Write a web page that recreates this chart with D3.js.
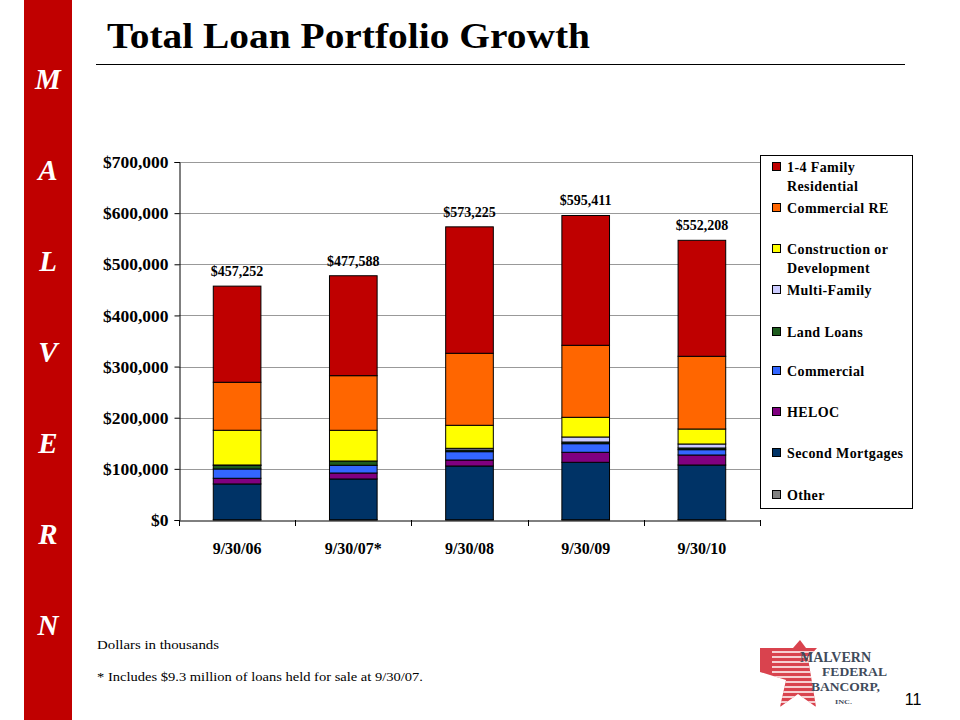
<!DOCTYPE html>
<html><head><meta charset="utf-8">
<script src="https://cdn.jsdelivr.net/npm/d3@7"></script>
<style>body{margin:0;background:#fff}svg{display:block}</style>
</head><body>
<svg id="c" width="960" height="720"></svg>
<script>
const categories = ["9/30/06", "9/30/07*", "9/30/08", "9/30/09", "9/30/10"];
const seriesNames = ["Other", "Second Mortgages", "HELOC", "Commercial", "Land Loans", "Multi-Family", "Construction or Development", "Commercial RE", "1-4 Family Residential"];
const other        = [0.5, 0.5, 0.5, 0.5, 0.5];
const secondMort   = [70.0, 79.7, 105.1, 112.3, 107.0];
const heloc        = [11.1, 11.7, 11.7, 19.6, 19.6];
const commercial   = [18.2, 15.1, 16.3, 16.8, 10.4];
const landLoans    = [7.0, 8.4, 3.3, 3.3, 3.3];
const multiFamily  = [0.8, 0.0, 3.3, 9.8, 7.8];
const construction = [67.9, 60.0, 45.0, 38.5, 29.3];
const commercialRE = [93.8, 106.8, 140.8, 140.8, 142.2];
const family14     = [188.0, 195.4, 247.2, 253.8, 226.8];
const totalLabels  = ["$457,252", "$477,588", "$573,225", "$595,411", "$552,208"];
const yTicks = [0, 100000, 200000, 300000, 400000, 500000, 600000, 700000];
const legendItems = [["1-4 Family", "Residential"], ["Commercial RE"], ["Construction or", "Development"], ["Multi-Family"], ["Land Loans"], ["Commercial"], ["HELOC"], ["Second Mortgages"], ["Other"]];
const sideLetters = ["M", "A", "L", "V", "E", "R", "N"];

const colors = {
  "Other": "#808080", "Second Mortgages": "#003366", "HELOC": "#800080", "Commercial": "#3366FF",
  "Land Loans": "#1E5C1E", "Multi-Family": "#CCCCFF", "Construction or Development": "#FFFF00",
  "Commercial RE": "#FF6600", "1-4 Family Residential": "#BF0000"
};
const seriesData = [other, secondMort, heloc, commercial, landLoans, multiFamily, construction, commercialRE, family14];

const svg = d3.select("#c");
const serif = "'Liberation Serif', 'DejaVu Serif', serif";

// side bar
svg.append("rect").attr("x", 24).attr("y", 0).attr("width", 48).attr("height", 720).attr("fill", "#C00000");
const letterY = d3.scalePoint().domain(sideLetters).range([89, 635]);
svg.selectAll("text.side").data(sideLetters).join("text").attr("class", "side")
  .attr("x", 48).attr("y", d => letterY(d)).attr("text-anchor", "middle")
  .attr("fill", "#fff").attr("font-family", serif).attr("font-style", "italic").attr("font-weight", "bold")
  .attr("font-size", 29).text(d => d);

// title
svg.append("text").attr("x", 107).attr("y", 48).attr("font-family", serif).attr("font-weight", "bold")
  .attr("font-size", 36).attr("fill", "#000").attr("textLength", 483).attr("lengthAdjust", "spacingAndGlyphs")
  .text("Total Loan Portfolio Growth");
svg.append("line").attr("x1", 96).attr("x2", 905).attr("y1", 64.5).attr("y2", 64.5).attr("stroke", "#000").attr("stroke-width", 1);

// scales
const x = d3.scaleBand().domain(categories).range([179, 760]).paddingInner(0.59).paddingOuter(0.295);
const y = d3.scaleLinear().domain([0, 700000]).range([520, 162]);

// gridlines
svg.append("g").selectAll("line").data(yTicks.filter(d => d > 0)).join("line")
  .attr("x1", 179).attr("x2", 760).attr("y1", d => Math.round(y(d)) + 0.5).attr("y2", d => Math.round(y(d)) + 0.5)
  .attr("stroke", "#999").attr("stroke-width", 1);

// stacked bars
const rows = categories.map((c, i) => {
  const r = { cat: c };
  seriesNames.forEach((s, j) => r[s] = seriesData[j][i] * 1000);
  return r;
});
const stack = d3.stack().keys(seriesNames)(rows);
const g = svg.append("g");
stack.forEach(layer => {
  g.append("g").selectAll("rect").data(layer).join("rect")
    .attr("x", d => x(d.data.cat)).attr("width", x.bandwidth())
    .attr("y", d => y(d[1])).attr("height", d => Math.max(0, y(d[0]) - y(d[1])))
    .attr("fill", colors[layer.key]).attr("stroke", "#000").attr("stroke-width", 1);
});

// total labels
svg.selectAll("text.tot").data(categories).join("text").attr("class", "tot")
  .attr("x", d => x(d) + x.bandwidth() / 2)
  .attr("y", (d, i) => y(d3.sum(seriesData, s => s[i]) * 1000) - 10)
  .attr("text-anchor", "middle").attr("font-family", serif).attr("font-weight", "bold").attr("font-size", 14)
  .text((d, i) => totalLabels[i]);

// axes
const yAxis = d3.axisLeft(y).tickValues(yTicks).tickSize(5).tickFormat(d => "$" + d3.format(",")(d));
const ya = svg.append("g").attr("transform", "translate(179.5,0)").call(yAxis);
ya.select(".domain").attr("stroke", "#000");
ya.selectAll(".tick line").attr("stroke", "#000");
ya.selectAll(".tick text").attr("font-family", serif).attr("font-weight", "bold").attr("font-size", 17.5).attr("fill", "#000").attr("x", -11);

const xAxis = d3.axisBottom(x).tickSize(0).tickPadding(0);
const xa = svg.append("g").attr("transform", "translate(0,520.5)").call(xAxis);
xa.select(".domain").attr("stroke", "#000");
xa.selectAll(".tick text").attr("font-family", serif).attr("font-weight", "bold").attr("font-size", 16).attr("fill", "#000").attr("dy", 0).attr("y", 33);
// category separator ticks
const boundaries = d3.range(categories.length + 1).map(i => 179 + i * (760 - 179) / categories.length);
svg.append("g").selectAll("line").data(boundaries).join("line")
  .attr("x1", d => Math.round(d) + 0.5).attr("x2", d => Math.round(d) + 0.5).attr("y1", 520).attr("y2", 526)
  .attr("stroke", "#000");

// legend
const lg = svg.append("g");
lg.append("rect").attr("x", 760.5).attr("y", 155.5).attr("width", 152).attr("height", 353).attr("fill", "#fff").attr("stroke", "#000");
const legendY = [167, 208, 249, 290, 332, 371, 412, 453, 495];
const legendKeys = ["1-4 Family Residential", "Commercial RE", "Construction or Development", "Multi-Family", "Land Loans", "Commercial", "HELOC", "Second Mortgages", "Other"];
legendItems.forEach((lines, i) => {
  const yy = legendY[i];
  lg.append("rect").attr("x", 772.5).attr("y", yy - 4.5).attr("width", 8).attr("height", 8)
    .attr("fill", colors[legendKeys[i]]).attr("stroke", "#000");
  lines.forEach((t, k) => {
    lg.append("text").attr("x", 787).attr("y", yy + 4.5 + k * 19).attr("font-family", serif)
      .attr("font-weight", "bold").attr("font-size", 14).attr("letter-spacing", 0.4).text(t);
  });
});

// footnotes
svg.append("text").attr("x", 97).attr("y", 649).attr("font-family", serif).attr("font-size", 13)
  .attr("textLength", 122).attr("lengthAdjust", "spacingAndGlyphs").text("Dollars in thousands");
svg.append("text").attr("x", 97).attr("y", 681).attr("font-family", serif).attr("font-size", 13)
  .attr("textLength", 326).attr("lengthAdjust", "spacingAndGlyphs").text("* Includes $9.3 million of loans held for sale at 9/30/07.");

// logo
const logo = svg.append("g");
const clip = svg.append("clipPath").attr("id", "starclip");
clip.append("polygon").attr("points", "760,648 793,648 800,640 806,648 817,648 808,658 816,707 798,694 780,707 786,680 760,672");
const sg = logo.append("g").attr("clip-path", "url(#starclip)");
sg.append("rect").attr("x", 758).attr("y", 638).attr("width", 62).attr("height", 72).attr("fill", "#D9434E");
for (let k = 0; k < 12; k++) {
  sg.append("line").attr("x1", 772).attr("x2", 820).attr("y1", 652 + k * 5).attr("y2", 652 + k * 5).attr("stroke", "#fff").attr("stroke-width", 1.6);
}
const lf = "'Liberation Serif', serif";
const logoColor = "#3F4B5B";
logo.append("text").attr("x", 800).attr("y", 662).attr("font-family", lf).attr("font-weight", "bold").attr("font-size", 14).attr("fill", logoColor).attr("textLength", 71).attr("lengthAdjust", "spacingAndGlyphs").text("MALVERN");
logo.append("text").attr("x", 822).attr("y", 676).attr("font-family", lf).attr("font-weight", "bold").attr("font-size", 13).attr("fill", logoColor).attr("textLength", 65).attr("lengthAdjust", "spacingAndGlyphs").text("FEDERAL");
logo.append("text").attr("x", 811).attr("y", 691).attr("font-family", lf).attr("font-weight", "bold").attr("font-size", 13).attr("fill", logoColor).attr("textLength", 69).attr("lengthAdjust", "spacingAndGlyphs").text("BANCORP,");
logo.append("text").attr("x", 835).attr("y", 704).attr("font-family", lf).attr("font-weight", "bold").attr("font-size", 7).attr("fill", logoColor).attr("textLength", 17).attr("lengthAdjust", "spacingAndGlyphs").text("INC.");

svg.append("text").attr("x", 913).attr("y", 705).attr("text-anchor", "middle").attr("font-family", "'Liberation Sans', Arial, sans-serif").attr("font-size", 16).text("11");
</script>
</body></html>
